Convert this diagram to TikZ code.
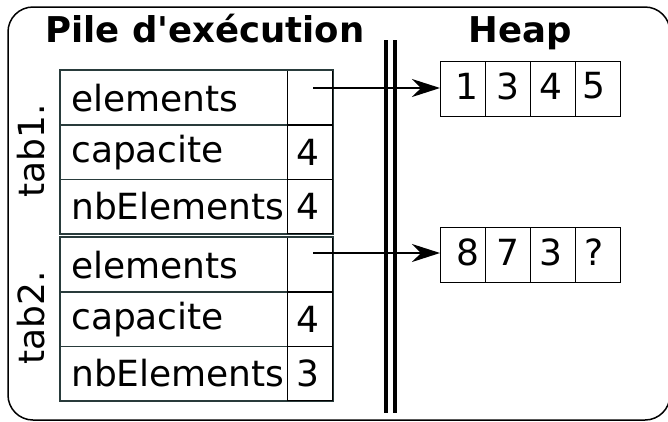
\documentclass[tikz,border=0pt]{standalone}
\usepackage{fontspec}
\setmainfont{DejaVu Sans}
\newfontfamily\ttlfont{DejaVu Sans}[Ligatures=TeXOff]
\usetikzlibrary{arrows.meta}
\definecolor{tabline}{rgb}{0.16,0.23,0.23}
\begin{document}
\begin{tikzpicture}[x=1pt,y=-1pt,
  txt/.style={font=\fontsize{36}{36}\selectfont, inner sep=0pt},
  ttl/.style={font=\fontsize{35.5}{35.5}\selectfont\ttlfont\bfseries, inner sep=0pt},
  lcell/.style={draw=tabline, line width=1.3pt, minimum width=227pt, minimum height=54.3pt, inner sep=0pt, anchor=north west},
  vcell/.style={draw=black, line width=1.3pt, minimum width=45pt, minimum height=54.3pt, inner sep=0pt, anchor=north west},
  hcell/.style={draw=black, line width=1.3pt, minimum width=45pt, minimum height=54.5pt, inner sep=0pt, anchor=north west},
  ptr/.style={line width=1.3pt, -{Stealth[length=28pt,width=18pt,inset=9pt]}}
]
\useasboundingbox (0,0) rectangle (668,421);
\draw[line width=1.5pt, rounded corners=25pt] (8,7) rectangle (670,420);

% titles
\node[ttl, anchor=base] (t1) at (205,42) {Pile d'exécution};
\node[ttl, anchor=base] (t2) at (520,42) {Heap};

% separator
\draw[line width=3.5pt] (386,40) coordinate (s1a) -- (386,413) coordinate (s1b);
\draw[line width=3.5pt] (395,40) coordinate (s2a) -- (395,413) coordinate (s2b);

% table 1
\node[lcell] (a1) at (60,70) {};
\node[vcell] (a1v) at (287,70) {};
\node[lcell] (a2) at (60,124.3) {};
\node[vcell] (a2v) at (287,124.3) {};
\node[lcell] (a3) at (60,178.6) {};
\node[vcell] (a3v) at (287,178.6) {};
\draw[tabline, line width=1.3pt] (a1.north west) rectangle (a3v.south east);
\node[txt, anchor=west] at ([xshift=11pt]a1.west) {elements};
\node[txt, anchor=west] at ([xshift=11pt]a2.west) {capacite};
\node[txt, anchor=west] at ([xshift=11pt]a3.west) {nbElements};
\node[txt] at ([xshift=-2pt]a2v.center) {4};
\node[txt] at ([xshift=-2pt]a3v.center) {4};
\node[txt, rotate=90] (l1) at (31,151) {tab1.};

% table 2
\node[lcell] (b1) at (60,237) {};
\node[vcell] (b1v) at (287,237) {};
\node[lcell] (b2) at (60,291.3) {};
\node[vcell] (b2v) at (287,291.3) {};
\node[lcell] (b3) at (60,345.6) {};
\node[vcell] (b3v) at (287,345.6) {};
\draw[tabline, line width=1.3pt] (b1.north west) rectangle (b3v.south east);
\node[txt, anchor=west] at ([xshift=11pt]b1.west) {elements};
\node[txt, anchor=west] at ([xshift=11pt]b2.west) {capacite};
\node[txt, anchor=west] at ([xshift=11pt]b3.west) {nbElements};
\node[txt] at ([xshift=-2pt]b2v.center) {4};
\node[txt] at ([xshift=-2pt]b3v.center) {3};
\node[txt, rotate=90] (l2) at (31,318) {tab2.};

% heap arrays
\node[hcell] (h11) at (440,61) {};
\node[hcell] (h12) at (485,61) {};
\node[hcell] (h13) at (530,61) {};
\node[hcell] (h14) at (575,61) {};
\node[txt] at (467,86) {1};
\node[txt] at (508,86) {3};
\node[txt] at (551,86) {4};
\node[txt] at (594,86) {5};

\node[hcell] (h21) at (440,227) {};
\node[hcell] (h22) at (485,227) {};
\node[hcell] (h23) at (530,227) {};
\node[hcell] (h24) at (575,227) {};
\node[txt] at (468,252) {8};
\node[txt] at (508,252) {7};
\node[txt] at (551,252) {3};
\node[txt] at (594,252) {?};

% pointers
\coordinate (p1) at (313,88);
\coordinate (p2) at (313,253);
\draw[ptr] (p1) -- (p1 -| h11.west);
\draw[ptr] (p2) -- (p2 -| h21.west);
\end{tikzpicture}
\end{document}
